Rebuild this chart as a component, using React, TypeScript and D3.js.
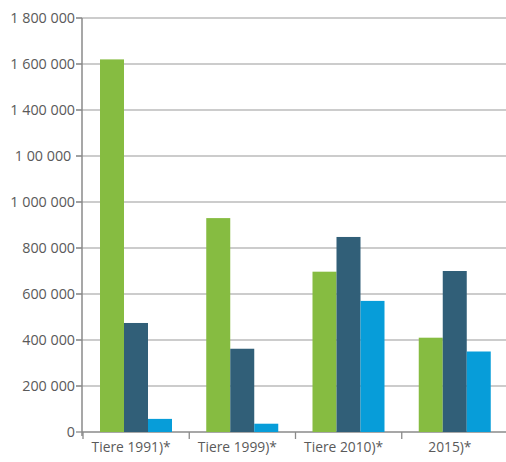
import React from "react";
import * as d3 from "d3";

const categories = ["Tiere 1991)*", "Tiere 1999)*", "Tiere 2010)*", "2015)*"];
const seriesA = [1620000, 930000, 697000, 410000];
const seriesB = [474000, 362000, 848000, 700000];
const seriesC = [57000, 36000, 570000, 350000];
const tickValues = [0, 200000, 400000, 600000, 800000, 1000000, 1200000, 1400000, 1600000, 1800000];
const tickLabels = ["0", "200 000", "400 000", "600 000", "800 000", "1 000 000", "1 00 000 ", "1 400 000", "1 600 000", "1 800 000"];
const colors = ["#86bc41", "#315f78", "#079dd9"];

const W = 506, H = 462;

export default function App() {
  const y = d3.scaleLinear().domain([0, 1800000]).range([432, 18]);
  const x0 = d3.scaleBand<string>().domain(categories).range([83, 508]).paddingInner(0).paddingOuter(0);
  const x1 = d3.scaleBand<number>().domain([0, 1, 2]).range([17, 17 + 72]);
  const series = [seriesA, seriesB, seriesC];
  const font = "'Open Sans', sans-serif";
  return (
    <svg width={W} height={H} style={{ position: "absolute", left: 0, top: 0, background: "#fff" }}>
      {tickValues.map((t, i) => (
        <g key={t}>
          <line x1={i === 0 ? 82 : 76} x2={W} y1={y(t)} y2={y(t)} stroke={i === 0 ? "#8a8a8a" : "#bbbbbb"} strokeWidth={i === 0 ? 1.5 : 1.3} />
          <line x1={76} x2={82} y1={y(t)} y2={y(t)} stroke="#8a8a8a" strokeWidth={1.3} />
          <text x={75} y={y(t)} dy="0.35em" textAnchor="end" fontFamily={font} fontSize={14.3} fill="#5a5a5a" style={{ whiteSpace: "pre" }}>{tickLabels[i]}</text>
        </g>
      ))}
      {categories.map((c, ci) => (
        <g key={c}>
          {series.map((s, si) => (
            <rect key={si} x={(x0(c) as number) + (x1(si) as number)} width={x1.bandwidth()} y={y(s[ci])} height={y(0) - y(s[ci])} fill={colors[si]} />
          ))}
          <line x1={x0(c)} x2={x0(c)} y1={432} y2={439} stroke="#8a8a8a" strokeWidth={1.3} />
          <text x={(x0(c) as number) + x0.bandwidth() / 2 - 5} y={452} textAnchor="middle" fontFamily={font} fontSize={13.8} fill="#5a5a5a">{c}</text>
        </g>
      ))}
      <line x1={82} x2={82} y1={18} y2={436} stroke="#8a8a8a" strokeWidth={1.5} />
    </svg>
  );
}
